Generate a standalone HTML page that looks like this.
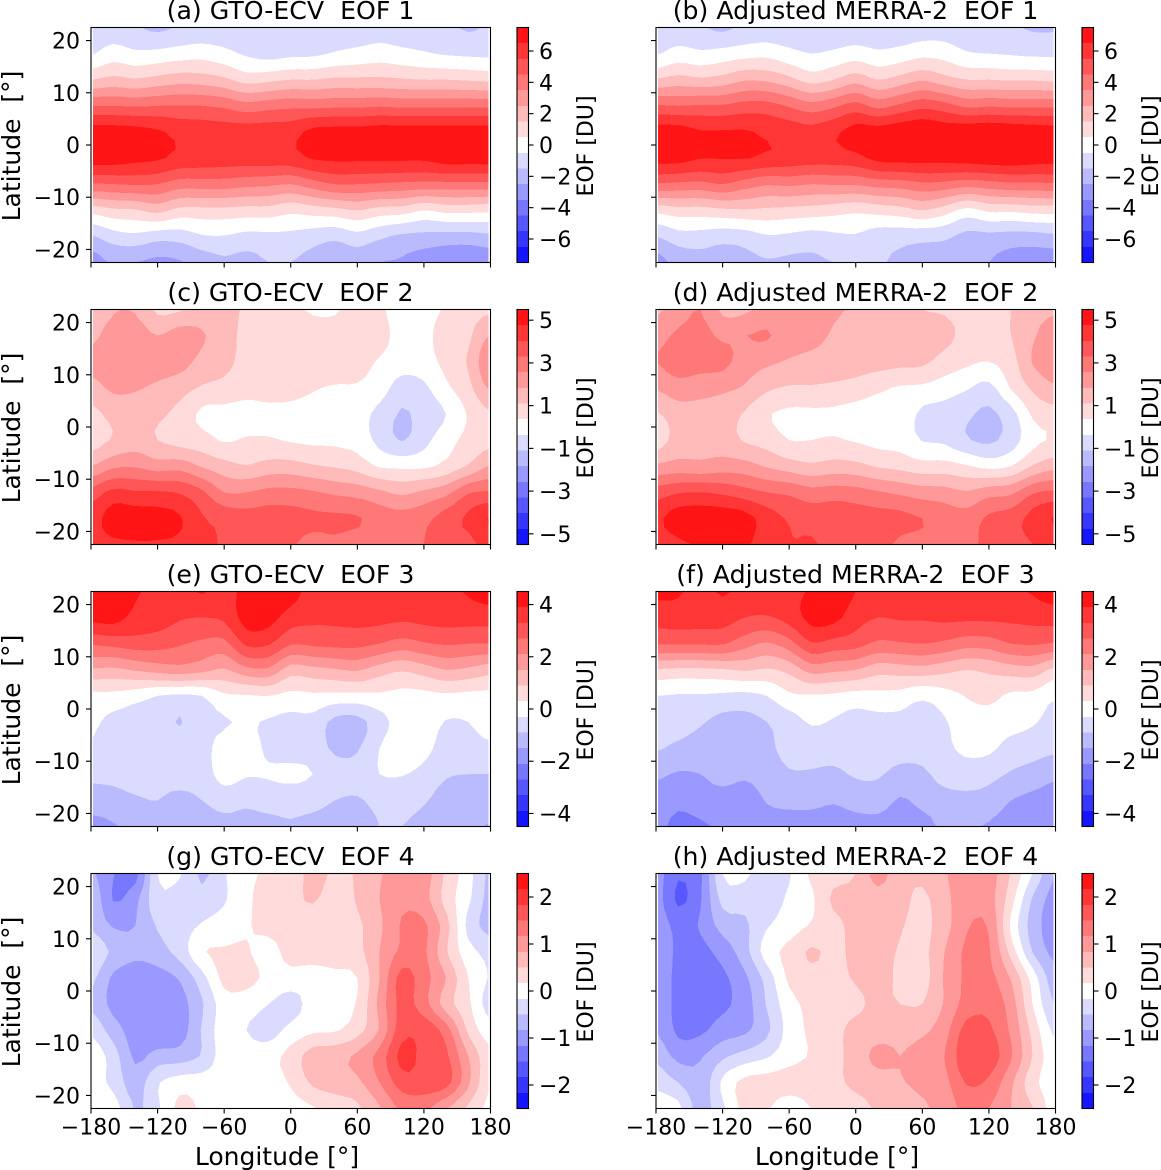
<!DOCTYPE html>
<html>
<head>
<meta charset="utf-8">
<title>EOF maps</title>
<style>
html,body{margin:0;padding:0;background:#fff;}
svg{display:block;}
text{font-family:"DejaVu Sans","Liberation Sans",sans-serif;fill:#000;}
.t{font-size:25.2px;text-anchor:middle;}
.l{font-size:25px;text-anchor:middle;}
.c{font-size:22px;text-anchor:middle;}
</style>
</head>
<body>
<svg id="fig" xmlns="http://www.w3.org/2000/svg" width="1161" height="1170" viewBox="0 0 1161 1170">
  <defs id="defs"></defs>
  <g id="plots"></g>
  <text class="t" x="290.5" y="19" xml:space="preserve">(a) GTO-ECV  EOF 1</text>
  <text class="t" x="855.5" y="19" xml:space="preserve">(b) Adjusted MERRA-2  EOF 1</text>
  <text class="t" x="290.5" y="301" xml:space="preserve">(c) GTO-ECV  EOF 2</text>
  <text class="t" x="855.5" y="301" xml:space="preserve">(d) Adjusted MERRA-2  EOF 2</text>
  <text class="t" x="290.5" y="583" xml:space="preserve">(e) GTO-ECV  EOF 3</text>
  <text class="t" x="855.5" y="583" xml:space="preserve">(f) Adjusted MERRA-2  EOF 3</text>
  <text class="t" x="290.5" y="865" xml:space="preserve">(g) GTO-ECV  EOF 4</text>
  <text class="t" x="855.5" y="865" xml:space="preserve">(h) Adjusted MERRA-2  EOF 4</text>
  <text class="l" transform="translate(20,146) rotate(-90)" xml:space="preserve">Latitude  [°]</text>
  <text class="l" transform="translate(20,428) rotate(-90)" xml:space="preserve">Latitude  [°]</text>
  <text class="l" transform="translate(20,710) rotate(-90)" xml:space="preserve">Latitude  [°]</text>
  <text class="l" transform="translate(20,992) rotate(-90)" xml:space="preserve">Latitude  [°]</text>
  <text class="l" x="277" y="1165">Longitude [°]</text>
  <text class="l" x="837" y="1165">Longitude [°]</text>
  <text class="c" transform="translate(593,146) rotate(-90)">EOF [DU]</text>
  <text class="c" transform="translate(1158,146) rotate(-90)">EOF [DU]</text>
  <text class="c" transform="translate(593,428) rotate(-90)">EOF [DU]</text>
  <text class="c" transform="translate(1158,428) rotate(-90)">EOF [DU]</text>
  <text class="c" transform="translate(593,710) rotate(-90)">EOF [DU]</text>
  <text class="c" transform="translate(1158,710) rotate(-90)">EOF [DU]</text>
  <text class="c" transform="translate(593,992) rotate(-90)">EOF [DU]</text>
  <text class="c" transform="translate(1158,992) rotate(-90)">EOF [DU]</text>
</svg>
<script>
/* Grid coordinates of the gridded EOF fields */
const lonGrid = [-180,-160,-140,-120,-100,-80,-60,-40,-20,0,20,40,60,80,100,120,140,160,180];
const latGrid = [22.5,17.5,12.5,7.5,2.5,-2.5,-7.5,-12.5,-17.5,-22.5];
const lonTicks = [-180,-120,-60,0,60,120,180];
const latTicks = [20,10,0,-10,-20];
const dataLonEdge = 178.2;

/* Colour limits (DU) and colour bar ticks per EOF row */
const colorLimits = [7.5,5.5,4.5,2.5];
const colorTicksEof1 = [-6,-4,-2,0,2,4,6];
const colorTicksEof2 = [-5,-3,-1,1,3,5];
const colorTicksEof3 = [-4,-2,0,2,4];
const colorTicksEof4 = [-2,-1,0,1,2];
const bandColors = ['#1515ff','#3636ff','#5757ff','#7878ff','#9999ff','#babaff','#dbdbff','#ffffff','#ffdbdb','#ffbaba','#ff9999','#ff7878','#ff5757','#ff3636','#ff1515'];

/* Field values, in contour-interval units (1 unit = 2*limit/15 DU).
   eofA..eofF: one list per longitude, north to south. */
const eofA = [
[-1.2,-.6,1.5,4.5,7,7,4.4,.9,-1.6,-3],
[-1.1,0,1.8,4.5,7,7,4.5,1.3,-.95,-2.4],
[-1.4,-.3,1.6,4.4,6.9,6.8,4.6,1.4,-.75,-2.5],
[-1.7,-.2,1.85,4.5,6.65,6.65,4.5,1.8,-1.1,-2.75],
[-1.4,0,2.1,4.55,6.2,6.2,4,1.2,-1.05,-2.6],
[-1.2,.1,2,4.5,6.1,6.1,4,1.2,-.6,-2.1],
[-1.2,-.2,1.7,4.3,6,6,4,1.2,-.55,-1.7],
[-1.3,-.65,1.1,3.9,6,6,3.8,1.1,-.8,-1.85],
[-1.45,-.9,1.25,4.1,6.05,6.05,3.7,1.1,-.75,-1.5],
[-1.3,-.75,1.5,4.25,6.1,6.1,3.5,.75,-.75,-1.5],
[-1.3,-.7,1.5,4.2,6.8,6.6,4.05,1,-1,-1.9],
[-1.2,-.4,1.7,4.3,6.9,6.7,4.5,1.2,-1.25,-2.3],
[-1.1,-.2,1.7,4.3,6.9,6.7,4.5,1.5,-.85,-2.1],
[-1,0,1.7,4.4,7,6.7,4.4,1.1,-1.3,-2.5],
[-1.1,-.2,1.6,4.3,7,6.7,4.3,1,-1.7,-2.6],
[-1.2,-.4,1.5,4.3,7,6.7,4.2,.5,-1.8,-3],
[-1.3,-.6,1.5,4.3,7,7,4.2,.8,-1.9,-3.2],
[-1.6,-.7,1.4,4.3,7,7,4.2,.8,-1.9,-3.3],
[-1.4,-.75,1.3,4.3,7,7,4.2,.7,-1.7,-3.2]];
const eofB = [
[-1.2,-.6,1.6,4.6,7,6.9,4.4,.8,-1.5,-2.9],
[-1.1,-.1,1.9,4.5,7,6.9,4.3,1.1,-.9,-2.2],
[-1.4,-.3,1.7,4.6,6.6,6.55,4.2,1.1,-.9,-1.9],
[-1.7,-.1,1.9,4.6,6.6,6.55,4.5,1.3,-1.1,-2],
[-1.3,.1,2.4,4.9,6.6,6.55,4,1.4,-1,-1.8],
[-1.2,.2,2.3,4.9,6.3,6.3,3.6,1.3,-.6,-1.6],
[-1.2,-.2,1.8,4.4,6.1,6.1,3.7,1.2,-.7,-1.7],
[-1.3,-.5,1.1,3.9,5.9,6,3.5,1.1,-.9,-1.7],
[-1.3,-.3,1.5,4.3,6.3,6,3.6,.9,-.7,-1.5],
[-1.2,0,2.1,4.9,6.9,6.2,3.6,.7,-.6,-1.4],
[-1.3,-.3,1.5,4.2,7,6.8,3.9,.9,-1,-1.4],
[-1.2,-.1,1.9,4.7,7.2,6.9,4,1.1,-1.1,-1.7],
[-1,.2,2.4,5.2,7.4,6.9,4.3,1.5,-1.2,-1.9],
[-1,.1,1.9,4.9,7.1,6.9,4.2,1,-1.3,-2.1],
[-1.2,-.4,1.5,4.3,7.2,7,3.9,.2,-1.8,-2.2],
[-1.3,-.5,1.5,4.4,7.3,7.1,4.1,.7,-1.8,-2.5],
[-1.4,-.6,1.4,4.3,7.2,7.1,4.3,.7,-1.9,-2.9],
[-1.6,-.7,1.4,4.3,7.1,7,4.3,.9,-1.9,-3],
[-1.6,-.7,1.3,4.3,7,6.9,4.4,.9,-1.7,-3.1]];
const eofC = [
[1.7,2.2,2.8,2.1,1.2,1,2.5,4.9,6,6.2],
[2.4,3,3.3,2.7,1.8,1.6,3.3,5.8,7,6.3],
[2.4,3.1,3.1,2.6,2,2,3.4,5.6,7,6.4],
[1.3,2.5,3,2.3,1.7,1.5,3,5.6,6.9,6.4],
[1.4,3,2.9,1.9,1.2,1.1,3.1,5.4,6.6,6.3],
[2,2.6,2.2,1.4,.3,.9,2.4,4.7,5.6,5.7],
[2,2,1.8,1.2,.2,.4,1.9,3.5,5.2,5.4],
[1.3,1.2,1.2,.9,.1,.6,1.55,3.5,4.9,4.8],
[1.2,1.2,1.3,1,.2,.6,1.9,3.8,5,4.9],
[.9,1.3,1.3,.9,.2,.4,1.9,3.8,4.9,4.6],
[.3,1.3,1.2,.6,.1,.3,1.6,3.6,4.7,4.2],
[.3,1.3,1.2,.4,.1,.3,1.4,3.3,4.7,4.3],
[1.1,1.2,.9,.4,-.1,.1,1.1,3.1,4.6,4],
[.7,.9,.4,0,-.8,-.8,.4,2.7,4.1,4.1],
[0,.1,0,-1,-1.6,-1.55,.3,2.3,3.9,4],
[.2,.2,.1,-.7,-1.1,-.8,.3,2.7,4.2,4.5],
[.6,1,.8,.3,-.5,.1,.8,3.2,5,5.1],
[1.2,1.3,1.6,1.2,.6,.8,1.6,4.4,5.7,5.2],
[1.3,2.6,3.5,2.7,1.4,1.2,2.6,4.6,6.6,6]];
const eofD = [
[2.3,3.1,3.5,2.6,1.4,1,2.7,5,6.3,6],
[3,3.7,4,3.1,2,1.9,2.9,5.4,7,6.3],
[3.5,3.9,3.9,2.9,2.1,2.1,2.8,5.5,7.1,6.6],
[2.3,3.3,3.8,2.7,2,2,3,5.3,7.1,6.6],
[2.3,3.48,3,2.4,1.4,1.4,2.9,4.9,6.9,6.7],
[2.9,3.6,2.7,1.7,.6,1.1,2.4,4.5,6,5.8],
[2.9,3,2.4,1.4,.3,.5,2,4.3,5.4,5.5],
[2.9,2.8,2.2,1.4,.3,.5,1.7,3.9,5.1,5.6],
[2.6,2.4,2.1,1.3,.3,.6,1.9,4,5.2,5.2],
[2.4,2.2,2,1.1,.1,.4,1.8,3.9,5,4.9],
[2,2.2,1.9,.7,0,.2,1.4,3.6,4.9,4.9],
[1.9,2.2,1.8,.4,.1,.1,1.2,3.3,4.8,4.3],
[1.5,2.1,1.7,.3,-.7,-.55,.9,3,4.5,4.2],
[1.4,1.8,1.1,0,-.9,-.7,.9,2.9,4.1,4.1],
[1.2,1.2,.7,-.4,-1.3,-1.4,.6,2.6,3.9,4.1],
[1.2,1.1,.5,-.8,-1.7,-1.7,.2,3.1,4.7,4.9],
[1.5,1.5,1.1,.6,-.9,-1,.5,3.3,5,5.2],
[2.2,2.4,2.6,1.7,.7,.2,1.6,4.4,5.9,5.5],
[2.4,3,3.1,2.4,1.1,.6,2.2,4.7,6.6,5.9]];
const eofE = [
[7,6.8,4.6,2.4,.2,-.3,-.6,-1.3,-1.9,-2.9],
[7.2,6.9,4.8,2.3,.2,-.8,-1,-1.3,-1.8,-2.6],
[6.6,6.2,5,2.6,-.1,-1,-1.1,-1.2,-1.6,-2.2],
[6.3,6,4.9,2.9,-.5,-1.1,-1.1,-1.2,-1.5,-1.9],
[6.1,5.6,4.6,3.1,-.7,-1.55,-1,-1,-1.8,-2],
[6.6,5.5,4.3,2.8,-.5,-.9,-.9,-1,-1.5,-2],
[6.1,5.7,4.2,2.4,.3,-.6,0,-.1,-1.1,-1.8],
[6.9,6.9,5.7,3.2,.4,-.4,0,-.4,-1.3,-1.8],
[7.4,6.9,5.6,3.3,.5,-.6,-.7,-.4,-1.1,-1.8],
[7,6,4.6,2,.2,-.8,-.9,-.3,-1.1,-1.6],
[6,5.7,4.7,2.2,.3,-.8,-.9,-.5,-1.1,-1.9],
[6,5.7,4.8,2.4,.2,-1.8,-1.7,-1,-1.5,-2.1],
[6.2,5.8,4.8,2.6,.2,-1.85,-1.6,-1.1,-1.6,-2.1],
[6.3,5.8,4.5,2,.3,-.9,-.5,-.5,-1.2,-1.5],
[6.3,5.7,4.1,1.6,.2,-.1,.1,-.45,-1.1,-1.5],
[6.2,5.8,4.4,2,.2,0,-.2,-.8,-1.4,-1.8],
[6.3,5.9,4.6,2.5,.3,-.55,-.9,-1.4,-1.9,-1.9],
[6.6,5.9,4.5,2.3,.2,-.5,-.8,-1.5,-1.9,-2.2],
[7,5.9,4.5,1.9,.2,-.1,-.7,-1.5,-1.8,-2.6]];
const eofF = [
[6.7,5.9,4.6,1.4,-.5,-1.1,-1.4,-2.3,-3,-3.3],
[6.6,6,4.6,1.3,-.6,-1.1,-1.7,-2.6,-3.3,-3.7],
[6.2,5.9,4.6,1.3,-.6,-1.4,-1.9,-2.5,-3.1,-3.6],
[6.6,5.9,4.6,1.4,-.7,-1.8,-2.1,-2.1,-3,-3.4],
[6.2,5.5,3.9,1.6,-.8,-1.8,-2,-2.3,-3.2,-3.4],
[6.2,5.4,3.4,1.4,-.5,-1.5,-1.7,-2,-2.4,-3.1],
[6.3,5.9,4.1,1.8,.3,-1,-1.2,-1.6,-2.2,-3],
[6.6,6.8,5.4,2.9,.4,-.4,-1.1,-1.6,-2.2,-3],
[7.1,6.8,5.1,2.7,.3,-.6,-1.1,-1.7,-2.4,-3],
[6.5,5.9,4.9,2.5,.1,-.9,-1.1,-1.4,-2.1,-2.9],
[6.1,5.5,4.3,1.9,.2,-.8,-1,-1.4,-2,-2.9],
[6.1,5.6,4.4,2,.1,-.8,-1.1,-1.8,-2.6,-3.1],
[6.3,5.6,4.5,2.1,-.3,-1,-1.1,-1.7,-2.2,-2.9],
[6.2,5.7,4.3,1.8,.1,-.6,-.7,-1.1,-1.9,-2.3],
[6.2,5.7,3.9,1.5,.55,.05,-.3,-.95,-1.8,-2.4],
[6.3,5.7,4,1.7,.8,0,-.3,-1.2,-1.9,-2.6],
[6.3,5.7,4.5,2,.3,-.1,-.9,-1.6,-2.5,-3],
[6.6,5.8,4.6,2.1,.2,-.4,-1.1,-1.9,-2.8,-3.2],
[7,5.9,4.4,1.2,-.4,-.9,-1.3,-2.3,-3,-3.3]];
/* eofG, eofH: one list per latitude, west to east. */
const eofG = [
[-2.3,-3.45,-3.9,-.5,-.4,-1.7,-.6,.3,.6,.8,1.9,1.3,1.6,2.4,3.1,3,1.3,-.1,-1.8],
[-1.6,-3.55,-2.8,-.8,-1,-1.1,-.6,.3,.9,1.2,1.6,1,1.6,2.5,3.3,2.9,1.1,-.3,-1.9],
[-1.6,-2.6,-2.5,-1.4,-1,-.4,0,.4,.8,1,1,1,1.3,2.3,3.6,3.7,1.9,-.8,-1.9],
[-.7,-1.7,-2.3,-1.9,-1.1,.4,.6,.6,.1,.9,1,1.1,1.2,2.5,3.7,3.7,1.6,-.1,-.8],
[-1.2,-2.7,-3,-2.9,-2.4,-.9,.8,.8,.3,.1,0,.2,.5,2.5,4.9,3.9,2.5,.5,-.6],
[-1.6,-2.8,-3,-3,-2.9,-1.6,0,0,-.5,-.9,-.1,0,.6,2.8,4.8,3.9,2,.7,-1],
[-.7,-2,-3,-3.3,-3,-1.4,0,-.5,-.9,-.2,.3,.4,1.1,2.6,5.1,5.2,4,1.3,-.1],
[.2,-1,-2.7,-2.1,-2,-1.4,0,0,.1,.9,2,2.2,2.7,3.9,5.8,5.2,4.7,2.5,.7],
[0,-.8,-2,-.6,0,0,0,0,.1,.6,1.7,2,2.3,3.5,5,5.2,4.9,2.7,.5],
[0,0,-1.6,-.7,.8,.3,-.4,-.1,0,.1,.4,.9,1.3,2.4,3.7,3.7,2.6,1.3,.2]];
const eofH = [
[-3,-4.4,-3.7,-.5,-.3,-1.1,-.6,.7,1.1,1.5,2.9,1.8,1.7,2.4,3.1,3,1.4,-.6,-2.6],
[-3,-4.7,-3.6,-1.2,-1.1,-1.1,-.3,.3,1.7,1.9,2.1,1.8,1.3,2.2,3.1,2.9,.9,-1.7,-2.9],
[-2.8,-3.8,-3.4,-2.1,-1.7,-.6,0,.6,1.1,1.9,2,1.6,1.2,2.1,3.4,3.4,.3,-2,-3],
[-2.4,-3.8,-3.8,-3.1,-1.9,0,.8,1.65,1.2,1.8,1.9,1.4,1.2,2.5,3.7,3.6,1.1,-1.6,-2.8],
[-2.7,-3.8,-3.9,-3.7,-2.7,-1.1,.7,1.1,1.2,1.6,1.9,1.3,1.1,2.6,3.7,3.8,2.4,0,-2.2],
[-2.7,-3.8,-3.9,-3.7,-3,-1.4,.1,.8,1.1,1.3,1.7,1.5,1.5,2.6,3.9,4.2,3,.4,-1.6],
[-2.5,-3.7,-3.7,-3,-2.7,-1.7,-.1,.7,1.2,1.8,2,2.2,2.3,3.1,4.9,4.7,3.3,1.1,-.8],
[-1.7,-2.8,-2.6,-1.7,-1.1,-.6,.1,.6,1.2,1.9,2.8,2.5,2.9,3.5,5.3,5.1,3.6,1.4,-.3],
[-.8,-1.5,-2.2,-.3,.8,.9,1,1.1,1.3,1.7,2,2.4,2.8,3.2,4.6,4.3,2.7,.8,-.1],
[.1,-.2,-1.9,-.7,.8,.6,-.1,.5,1,1.2,1.6,1.8,2.3,2.9,3.8,3.5,2.5,1.5,-.1]];

const NS = 'http://www.w3.org/2000/svg';
const plots = document.getElementById('plots');
const defs = document.getElementById('defs');
function el(tag, attrs, parent) {
  const node = document.createElementNS(NS, tag);
  for (const k in attrs) node.setAttribute(k, attrs[k]);
  parent.appendChild(node);
  return node;
}
function fieldByLon(a) { return (i, j) => a[j][i]; }
function fieldByLat(a) { return (i, j) => a[i][j]; }

const panelWidth = 399.5, panelHeight = 235;
const colX = [91, 656], rowY = [27.5, 309.5, 591.5, 873.5];
const fields = [
  [fieldByLon(eofA), fieldByLon(eofB)],
  [fieldByLon(eofC), fieldByLon(eofD)],
  [fieldByLon(eofE), fieldByLon(eofF)],
  [fieldByLat(eofG), fieldByLat(eofH)]
];
const colorTicks = [colorTicksEof1, colorTicksEof2, colorTicksEof3, colorTicksEof4];
const panelKeys = ['a','b','c','d','e','f','g','h'];
const contourRefine = 3;

/* keep only the part of a cell where value >= lo */
function clipCell(cell, lo) {
  const out = [];
  for (let k = 0; k < cell.length; k++) {
    const a = cell[k], b = cell[(k + 1) % cell.length];
    if (a[2] >= lo) out.push(a);
    if ((a[2] - lo) * (b[2] - lo) < 0) {
      const t = (lo - a[2]) / (b[2] - a[2]);
      out.push([a[0] + t * (b[0] - a[0]), a[1] + t * (b[1] - a[1]), lo]);
    }
  }
  return out;
}

/* cubic weights used only to round off the contour outlines between grid nodes */
function cubicWeights(t) {
  return [(-t*t*t + 2*t*t - t) / 2, (3*t*t*t - 5*t*t + 2) / 2, (-3*t*t*t + 4*t*t + t) / 2, (t*t*t - t*t) / 2];
}
function sampleField(value, fi, fj) {
  const i0 = Math.min(Math.floor(fi), latGrid.length - 2);
  const j0 = Math.min(Math.floor(fj), lonGrid.length - 2);
  const wi = cubicWeights(fi - i0), wj = cubicWeights(fj - j0);
  let sum = 0;
  for (let a = 0; a < 4; a++) {
    const ii = Math.max(0, Math.min(latGrid.length - 1, i0 + a - 1));
    for (let b = 0; b < 4; b++) {
      const jj = Math.max(0, Math.min(lonGrid.length - 1, j0 + b - 1));
      sum += wi[a] * wj[b] * value(ii, jj);
    }
  }
  return sum;
}

function drawPanel(row, col) {
  const key = panelKeys[row * 2 + col];
  const x0 = colX[col], y0 = rowY[row];
  const xScale = lon => x0 + (lon + 180) / 360 * panelWidth;
  const yScale = lat => y0 + (22.5 - lat) / 45 * panelHeight;
  const limit = colorLimits[row];
  const unit = 2 * limit / 15;
  const value = fields[row][col];
  const levels = bandColors.map((c, i) => -limit + i * unit);

  const g = el('g', {}, plots);
  
  

  const clip = el('clipPath', { id: 'clip-' + key }, defs);
  el('rect', { x: xScale(-dataLonEdge), y: y0, width: xScale(dataLonEdge) - xScale(-dataLonEdge), height: panelHeight }, clip);

  /* refined sampling of the field */
  const ni = (latGrid.length - 1) * contourRefine, nj = (lonGrid.length - 1) * contourRefine;
  const latStep = latGrid[1] - latGrid[0], lonStep = lonGrid[1] - lonGrid[0];
  const samples = [];
  for (let i = 0; i <= ni; i++) {
    const line = [];
    const fi = i / contourRefine;
    for (let j = 0; j <= nj; j++) {
      const fj = j / contourRefine;
      line.push([xScale(lonGrid[0] + fj * lonStep), yScale(latGrid[0] + fi * latStep), sampleField(value, fi, fj) * unit]);
    }
    samples.push(line);
  }

  const bands = el('g', { 'clip-path': 'url(#clip-' + key + ')', 'shape-rendering': 'crispEdges' }, g);
  bandColors.forEach((color, b) => {
    const lo = levels[b];
    let d = '';
    for (let i = 0; i < ni; i++) {
      for (let j = 0; j < nj; j++) {
        const cell = [samples[i][j], samples[i][j + 1], samples[i + 1][j + 1], samples[i + 1][j]];
        const poly = b === 0 ? cell : clipCell(cell, lo);
        if (poly.length > 2) {
          d += 'M' + poly.map(p => p[0].toFixed(1) + ' ' + p[1].toFixed(1)).join('L') + 'Z';
        }
      }
    }
    if (!d) return;
    const path = el('path', { d: d, fill: color }, bands);
    
    
  });

  const frame = el('rect', { x: x0, y: y0, width: panelWidth, height: panelHeight, fill: 'none', stroke: '#000', 'stroke-width': 1.1 }, g);
  
  

  lonTicks.forEach(lon => {
    const tick = el('line', { x1: xScale(lon), x2: xScale(lon), y1: y0 + panelHeight, y2: y0 + panelHeight + 5, stroke: '#000', 'stroke-width': 1.1 }, g);
    
    
    if (row === 3) {
      const label = el('text', { x: xScale(lon), y: y0 + panelHeight + 26, 'font-size': 22, 'text-anchor': 'middle' }, g);
      label.textContent = String(lon).replace('-', '\u2212');
      
      
    }
  });
  latTicks.forEach(lat => {
    const tick = el('line', { x1: x0 - 5, x2: x0, y1: yScale(lat), y2: yScale(lat), stroke: '#000', 'stroke-width': 1.1 }, g);
    
    
    if (col === 0) {
      const label = el('text', { x: x0 - 11, y: yScale(lat) + 8, 'font-size': 22, 'text-anchor': 'end' }, g);
      label.textContent = String(lat).replace('-', '\u2212');
      
      
    }
  });

  /* colour bar */
  const cbX = x0 + 426, cbW = 11.5;
  const cbScale = v => y0 + (limit - v) / (2 * limit) * panelHeight;
  const cb = el('g', {}, plots);
  
  
  bandColors.forEach((color, b) => {
    const seg = el('rect', { x: cbX, y: cbScale(levels[b] + unit), width: cbW, height: cbScale(levels[b]) - cbScale(levels[b] + unit), fill: color, 'shape-rendering': 'crispEdges' }, cb);
    
    
  });
  const outline = el('rect', { x: cbX, y: y0, width: cbW, height: panelHeight, fill: 'none', stroke: '#000', 'stroke-width': 1.1 }, cb);
  
  
  colorTicks[row].forEach(v => {
    const tick = el('line', { x1: cbX + cbW, x2: cbX + cbW + 5, y1: cbScale(v), y2: cbScale(v), stroke: '#000', 'stroke-width': 1.1 }, cb);
    
    
    const label = el('text', { x: cbX + cbW + 10.5, y: cbScale(v) + 8, 'font-size': 22 }, cb);
    label.textContent = String(v).replace('-', '\u2212');
    
    
  });
}

for (let r = 0; r < 4; r++) {
  for (let c = 0; c < 2; c++) drawPanel(r, c);
}
</script>
</body>
</html>
